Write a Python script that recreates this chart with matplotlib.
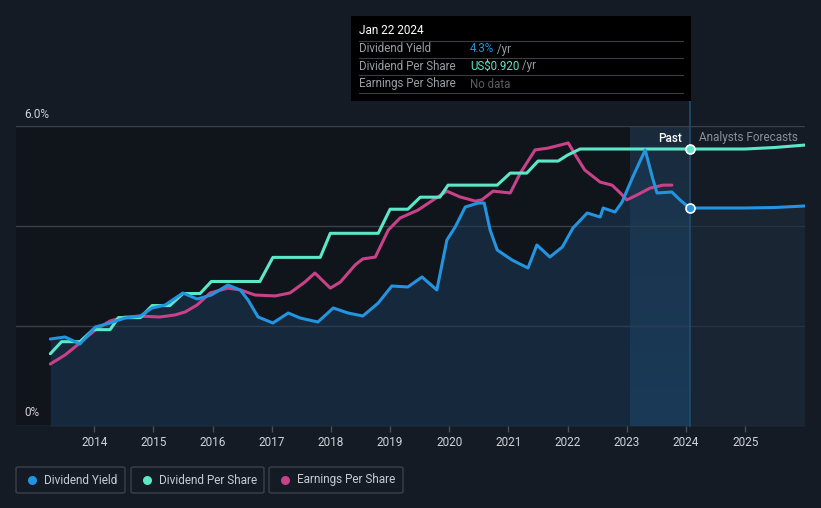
import matplotlib
matplotlib.use("Agg")
import matplotlib.pyplot as plt
import numpy as np
from matplotlib.patches import Rectangle, FancyBboxPatch
from matplotlib.lines import Line2D
from matplotlib.colors import LinearSegmentedColormap

# ---------------- data ----------------
yield_years = [2013.26, 2013.51, 2013.76, 2014.02, 2014.27, 2014.52, 2014.78, 2014.98,
               2015.20, 2015.50, 2015.74, 2015.98, 2016.26, 2016.47, 2016.60, 2016.77,
               2017.02, 2017.28, 2017.48, 2017.78, 2018.04, 2018.29, 2018.54, 2018.80,
               2019.03, 2019.30, 2019.54, 2019.79, 2019.96, 2020.10, 2020.27, 2020.49,
               2020.59, 2020.69, 2020.81, 2021.06, 2021.33, 2021.48, 2021.70, 2021.91,
               2022.09, 2022.33, 2022.55, 2022.60, 2022.80, 2022.92, 2023.10, 2023.31,
               2023.43, 2023.51, 2023.76, 2023.90, 2024.06]
yield_pct = [1.74, 1.78, 1.64, 1.98, 2.06, 2.16, 2.20, 2.36,
             2.42, 2.66, 2.54, 2.62, 2.82, 2.72, 2.52, 2.18,
             2.06, 2.26, 2.16, 2.08, 2.36, 2.26, 2.20, 2.46,
             2.80, 2.78, 2.98, 2.72, 3.72, 3.98, 4.38, 4.46,
             4.46, 3.92, 3.52, 3.32, 3.16, 3.62, 3.38, 3.58,
             3.96, 4.26, 4.18, 4.36, 4.28, 4.48, 4.98, 5.52,
             4.98, 4.66, 4.68, 4.52, 4.36]
yield_fc_years = [2024.06, 2025.0, 2025.5, 2026.0]
yield_fc_pct = [4.36, 4.36, 4.37, 4.40]

dps_years = [2013.26, 2013.45, 2013.76, 2013.98, 2014.27, 2014.41, 2014.78, 2014.98,
             2015.28, 2015.50, 2015.79, 2015.98, 2016.80, 2017.02, 2017.82, 2017.99,
             2018.80, 2019.00, 2019.30, 2019.51, 2019.84, 2019.98, 2020.81, 2021.03,
             2021.31, 2021.50, 2021.84, 2022.00, 2022.21, 2024.06]
dps_usd = [0.24, 0.28, 0.28, 0.32, 0.32, 0.36, 0.36, 0.40,
           0.40, 0.44, 0.44, 0.48, 0.48, 0.56, 0.56, 0.64,
           0.64, 0.72, 0.72, 0.76, 0.76, 0.80, 0.80, 0.84,
           0.84, 0.88, 0.88, 0.90, 0.92, 0.92]
dps_fc_years = [2024.06, 2025.0, 2025.5, 2026.0]
dps_fc_usd = [0.92, 0.92, 0.925, 0.933]

eps_years = [2013.26, 2013.51, 2013.76, 2014.02, 2014.27, 2014.52, 2014.78, 2015.11,
             2015.37, 2015.54, 2015.74, 2015.96, 2016.26, 2016.47, 2016.72, 2017.06,
             2017.31, 2017.56, 2017.73, 2017.99, 2018.16, 2018.41, 2018.54, 2018.75,
             2018.97, 2019.17, 2019.47, 2019.73, 2019.96, 2020.18, 2020.44, 2020.55,
             2020.74, 2021.03, 2021.20, 2021.45, 2021.67, 2021.87, 2022.01, 2022.13,
             2022.29, 2022.55, 2022.75, 2022.89, 2023.00, 2023.17, 2023.39, 2023.61,
             2023.76]
eps_usd = [0.206, 0.236, 0.276, 0.319, 0.349, 0.362, 0.365, 0.362,
           0.369, 0.379, 0.402, 0.442, 0.458, 0.452, 0.435, 0.432,
           0.442, 0.478, 0.508, 0.458, 0.478, 0.535, 0.555, 0.561,
           0.651, 0.691, 0.717, 0.751, 0.780, 0.761, 0.747, 0.751,
           0.780, 0.774, 0.840, 0.917, 0.923, 0.933, 0.940, 0.900,
           0.850, 0.810, 0.800, 0.774, 0.751, 0.767, 0.790, 0.800,
           0.800]

today = 2024.06
past_start = 2023.06
x_ticks = list(range(2014, 2026))
y_ticks = [0, 2, 4, 6]

# ---------------- style ----------------
BG = "#151b25"
PAST_BG = "#10141b"
BLUE = "#2394e0"
TEAL = "#5ce8c8"
PINK = "#c8428a"
GRID = "#3a3f48"
TICK_TXT = "#d0d3d8"

W, H = 821, 508
fig = plt.figure(figsize=(W / 100, H / 100), dpi=100, facecolor=BG)

def fx(px):
    return px / W

def fy(py):
    return 1 - py / H

ax_l, ax_r, ax_t, ax_b = 16, 805, 126, 426
ax = fig.add_axes([fx(ax_l), fy(ax_b), fx(ax_r - ax_l), (ax_b - ax_t) / H])
ax.set_facecolor(BG)
xmin, xmax = 2012.68, 2026.01

# backgrounds
ax.axvspan(xmin, past_start, color=PAST_BG, zorder=0, lw=0)
grad = np.linspace(0, 1, 256).reshape(-1, 1)
cm = LinearSegmentedColormap.from_list("band", ["#1a2a3b", "#173a58"])
ax.imshow(grad, cmap=cm, extent=[past_start, today, 0, 6], aspect="auto",
          origin="upper", zorder=0.5)
ax.set_xlim(xmin, xmax)
ax.set_ylim(0, 6)

# gridlines
for yv in y_ticks:
    ax.axhline(yv, color=GRID if yv > 0 else "#4a4f57", lw=1, zorder=1)

# yield area fill
ax.fill_between(yield_years, 0, yield_pct, color="#1c3a57", alpha=0.55, lw=0, zorder=1.5)
ax.fill_between(yield_fc_years, 0, yield_fc_pct, color="#1d2c3e", alpha=0.6, lw=0, zorder=1.5)

# today line
ax.plot([today, today], [0, 6.5], color="#1f4d70", lw=1.2, zorder=2, clip_on=False)

# secondary scale for US$ series (drawn above ax)
ax2 = ax.twinx()
ax2.set_ylim(0, 6 * 0.92 / (277 / 50))
ax2.set_xlim(xmin, xmax)
ax2.axis("off")

ax2.plot(eps_years, eps_usd, color=PINK, lw=2.2, zorder=3, solid_capstyle="round")
ax2.plot(dps_years, dps_usd, color=TEAL, lw=2.2, zorder=4, solid_capstyle="round")
ax2.plot(dps_fc_years, dps_fc_usd, color=TEAL, lw=2.2, zorder=4)

# yield line on top layer using a third transparent axes sharing the yield scale
ax3 = ax.twinx()
ax3.set_ylim(0, 6)
ax3.set_xlim(xmin, xmax)
ax3.axis("off")
ax3.plot(yield_years, yield_pct, color=BLUE, lw=2.2, zorder=5, solid_capstyle="round")
ax3.plot(yield_fc_years, yield_fc_pct, color=BLUE, lw=2.2, zorder=5)

# markers at today
ax3.plot([today], [yield_pct[-1]], "o", ms=6.5, mfc=BLUE, mec="white", mew=1.2, zorder=6)
ax2.plot([today], [dps_usd[-1]], "o", ms=6.5, mfc=TEAL, mec="white", mew=1.2, zorder=6,
         clip_on=False)

# axes appearance
for a in (ax, ax2, ax3):
    for s in a.spines.values():
        s.set_visible(False)
ax.set_yticks([])
ax.set_xticks(x_ticks)
ax.set_xticklabels([str(t) for t in x_ticks], color=TICK_TXT, fontsize=8.5,
                   fontfamily="Roboto")
ax.tick_params(axis="x", length=4, color="#4a4f57", width=1, pad=3)

# y labels
fig.text(fx(24), fy(114), "6.0%", color=TICK_TXT, fontsize=8.5, family="Roboto",
         ha="left", va="center")
fig.text(fx(24), fy(413), "0%", color=TICK_TXT, fontsize=8.5, family="Roboto",
         ha="left", va="center")

# Past / Analysts Forecasts
fig.text(fx(682), fy(138), "Past", color="white", fontsize=8.5, family="Roboto",
         ha="right", va="center", weight="medium")
fig.text(fx(699), fy(138), "Analysts Forecasts", color="#8a8f96", fontsize=8.5,
         family="Roboto", ha="left", va="center")

# tooltip
tt = Rectangle((fx(351), fy(101)), fx(340), (101 - 16) / H, transform=fig.transFigure,
               facecolor="#000000", edgecolor="none", zorder=10)
fig.patches.append(tt)
fig.text(fx(359), fy(30), "Jan 22 2024", color="white", fontsize=8.5, family="Roboto",
         va="center", zorder=11)
rows = [("Dividend Yield", "4.3%", BLUE, " /yr"),
        ("Dividend Per Share", "US$0.920", TEAL, " /yr"),
        ("Earnings Per Share", "No data", "#5a5e64", "")]
row_y = [49, 66, 84]
for yv in [41, 58, 75, 93]:
    fig.lines.append(Line2D([fx(359), fx(683)], [fy(yv), fy(yv)], transform=fig.transFigure,
                            color="#3a3d42", lw=0.8, zorder=11))
for (lab, val, col, suf), yv in zip(rows, row_y):
    fig.text(fx(359), fy(yv), lab, color="#9a9ea5", fontsize=8.3, family="Roboto",
             va="center", zorder=11)
    t = fig.text(fx(470), fy(yv), val, color=col, fontsize=8.3, family="Roboto",
                 va="center", zorder=11)
    if suf:
        fig.canvas.draw()
        bb = t.get_window_extent()
        fig.text(bb.x1 / W, fy(yv), suf, color="#9a9ea5", fontsize=8.3, family="Roboto",
                 va="center", zorder=11)

# legend boxes
legend = [("Dividend Yield", BLUE, 16, 125), ("Dividend Per Share", TEAL, 131, 264),
          ("Earnings Per Share", PINK, 269, 403)]
for lab, col, x0, x1 in legend:
    box = FancyBboxPatch((fx(x0), fy(493)), fx(x1 - x0), 26 / H,
                         boxstyle="round,pad=0,rounding_size=0.003",
                         transform=fig.transFigure, facecolor="none",
                         edgecolor="#3c4049", lw=1)
    fig.patches.append(box)
    fig.lines.append(Line2D([fx(x0 + 16)], [fy(480)], transform=fig.transFigure,
                            marker="o", ms=6.5, color=col, mec="none"))
    fig.text(fx(x0 + 28), fy(480), lab, color="#c8ccd2", fontsize=8.5, family="Roboto",
             va="center")

fig.savefig("out.png", dpi=100, facecolor=BG)
